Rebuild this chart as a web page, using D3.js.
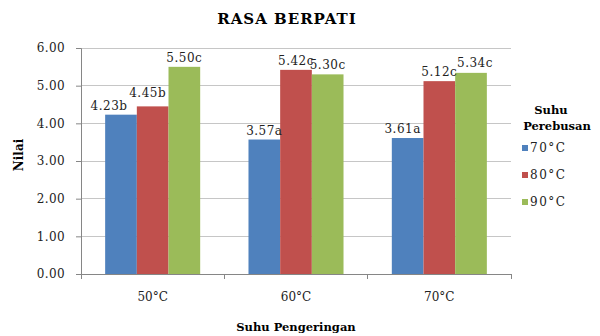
<!DOCTYPE html>
<html>
<head>
<meta charset="utf-8">
<script src="https://cdn.jsdelivr.net/npm/d3@7"></script>
<style>
  body { margin: 0; background: #fff; }
  svg text { font-family: 'DejaVu Serif', serif; }
</style>
</head>
<body>
<div id="chart"></div>
<script>
  // data
  const categories = ["50°C", "60°C", "70°C"];
  const seriesNames = ["70°C", "80°C", "90°C"];
  const values70 = [4.23, 3.57, 3.61];
  const values80 = [4.45, 5.42, 5.12];
  const values90 = [5.50, 5.30, 5.34];
  const labels70 = ["4.23b", "3.57a", "3.61a"];
  const labels80 = ["4.45b", "5.42c", "5.12c"];
  const labels90 = ["5.50c", "5.30c", "5.34c"];
  const yTicks = [0, 1, 2, 3, 4, 5, 6];

  const colours = ["#4F81BD", "#C0504D", "#9BBB59"];
  const W = 600, H = 336;
  const plot = { left: 81, right: 511, top: 48, bottom: 274 };
  // labels that were nudged by hand in the original so they don't collide
  const labelNudge = { "4.23b": [-12, 0], "4.45b": [-5, -4], "3.61a": [-5, 0], "5.34c": [4, -1] };

  const seriesValues = [values70, values80, values90];
  const seriesLabels = [labels70, labels80, labels90];

  const svg = d3.select("#chart").append("svg")
    .attr("width", W).attr("height", H);

  const x0 = d3.scaleBand()
    .domain(categories)
    .range([plot.left, plot.right])
    .paddingInner(0.337)
    .paddingOuter(0.337 / 2);

  const x1 = d3.scaleBand()
    .domain(seriesNames)
    .range([0, x0.bandwidth()])
    .padding(0);

  const y = d3.scaleLinear().domain([0, 6]).range([plot.bottom, plot.top]);

  // gridlines
  svg.append("g")
    .selectAll("line")
    .data(yTicks.filter((d) => d > 0))
    .join("line")
    .attr("x1", plot.left).attr("x2", plot.right)
    .attr("y1", (d) => y(d)).attr("y2", (d) => y(d))
    .attr("stroke", "#c6c6c6").attr("stroke-width", 1)
    .attr("shape-rendering", "crispEdges");

  // y axis
  const yAxis = svg.append("g")
    .attr("transform", `translate(${plot.left},0)`)
    .call(d3.axisLeft(y).tickValues(yTicks).tickFormat(d3.format(".2f")).tickSize(5).tickPadding(11));
  yAxis.attr("font-family", null);
  yAxis.select(".domain").attr("stroke", "#868686");
  yAxis.selectAll(".tick line").attr("stroke", "#868686");
  yAxis.selectAll("text")
    .attr("font-size", 12).attr("fill", "#222")
    .style("letter-spacing", "0.4px");

  // bars
  const groups = svg.append("g")
    .selectAll("g")
    .data(categories)
    .join("g")
    .attr("transform", (d) => `translate(${x0(d)},0)`);

  const cells = (c, ci) => seriesNames.map((s, si) => ({ s, si, v: seriesValues[si][ci], label: seriesLabels[si][ci] }));

  groups.selectAll("rect")
    .data(cells)
    .join("rect")
    .attr("x", (d) => x1(d.s))
    .attr("width", x1.bandwidth())
    .attr("y", (d) => y(d.v))
    .attr("height", (d) => y(0) - y(d.v))
    .attr("fill", (d) => colours[d.si]);

  groups.selectAll("text")
    .data(cells)
    .join("text")
    .attr("x", (d) => x1(d.s) + x1.bandwidth() / 2 + (labelNudge[d.label] || [0, 0])[0])
    .attr("y", (d) => y(d.v) - 5 + (labelNudge[d.label] || [0, 0])[1])
    .attr("text-anchor", "middle")
    .attr("font-size", 12)
    .attr("fill", "#222")
    .style("letter-spacing", "0.5px")
    .text((d) => d.label);

  // x axis
  const xAxisG = svg.append("g")
    .attr("transform", `translate(0,${plot.bottom})`);
  xAxisG.append("line")
    .attr("x1", plot.left).attr("x2", plot.right)
    .attr("stroke", "#868686").attr("shape-rendering", "crispEdges");
  const step = x0.step();
  const bounds = d3.range(categories.length + 1).map((i) => plot.left + i * step);
  xAxisG.selectAll("line.tk")
    .data(bounds)
    .join("line")
    .attr("class", "tk")
    .attr("x1", (d) => d).attr("x2", (d) => d)
    .attr("y1", 0).attr("y2", 5)
    .attr("stroke", "#868686").attr("shape-rendering", "crispEdges");
  xAxisG.selectAll("text")
    .data(categories)
    .join("text")
    .attr("x", (d) => x0(d) + x0.bandwidth() / 2)
    .attr("y", 27)
    .attr("text-anchor", "middle")
    .attr("font-size", 12)
    .attr("fill", "#222")
    .text((d) => d);

  // title and axis titles
  svg.append("text")
    .attr("x", 287).attr("y", 24)
    .attr("text-anchor", "middle")
    .attr("font-size", 15).attr("font-weight", "bold")
    .style("letter-spacing", "1px")
    .text("RASA BERPATI");

  svg.append("text")
    .attr("x", 296).attr("y", 331)
    .attr("text-anchor", "middle")
    .attr("font-size", 11.5).attr("font-weight", "bold")
    .text("Suhu Pengeringan");

  svg.append("text")
    .attr("transform", "translate(23,155) rotate(-90)")
    .attr("text-anchor", "middle")
    .attr("font-size", 12).attr("font-weight", "bold")
    .text("Nilai");

  // legend
  const legend = svg.append("g");
  legend.append("text")
    .attr("x", 551).attr("y", 114)
    .attr("text-anchor", "middle")
    .attr("font-size", 11.5).attr("font-weight", "bold")
    .text("Suhu");
  legend.append("text")
    .attr("x", 557).attr("y", 130)
    .attr("text-anchor", "middle")
    .attr("font-size", 11.5).attr("font-weight", "bold")
    .text("Perebusan");

  const items = legend.selectAll("g.item")
    .data(seriesNames)
    .join("g")
    .attr("class", "item")
    .attr("transform", (d, i) => `translate(522,${152 + i * 27})`);
  items.append("rect")
    .attr("x", 0).attr("y", -7)
    .attr("width", 6).attr("height", 6)
    .attr("fill", (d, i) => colours[i]);
  items.append("text")
    .attr("x", 8).attr("y", 0)
    .attr("font-size", 12)
    .attr("fill", "#222")
    .style("letter-spacing", "1.5px")
    .text((d) => d);
</script>
</body>
</html>
